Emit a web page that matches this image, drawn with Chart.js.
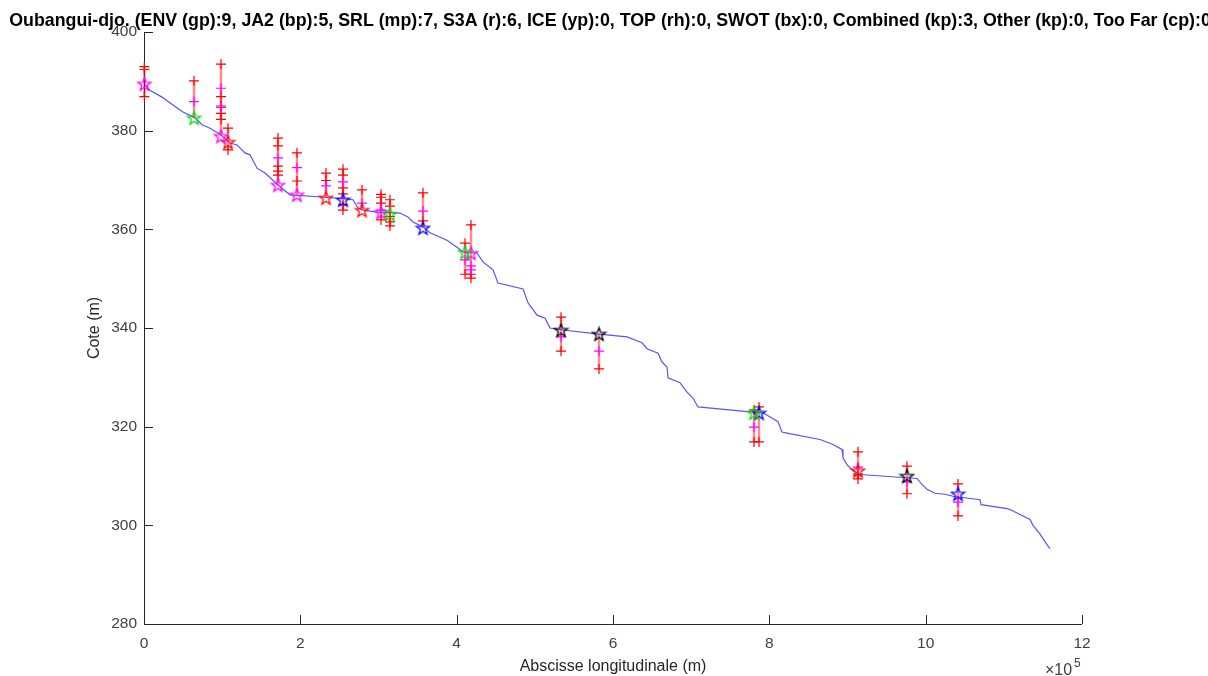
<!DOCTYPE html>
<html>
<head>
<meta charset="utf-8">
<script src="https://cdn.jsdelivr.net/npm/chart.js@4.4.1/dist/chart.umd.min.js"></script>
<style>
    html, body { margin: 0; padding: 0; background: #fff; }
</style>
</head>
<body>
<canvas id="profileChart" width="1208" height="676"></canvas>
<script>
// PROFILE CHART - water levels along the river

// River profile (blue line): abscissa in m, elevation in m
const profileX = [1300, 7700, 23000, 37100, 49900, 65200, 74200, 84400, 97200, 110000,
    119000, 129200, 135600, 144600, 154800, 171400, 186800, 222600, 254600, 267400,
    273800, 280200, 298100, 327500, 337700, 344100, 356900, 365900, 387600, 401700,
    408100, 426000, 433700, 446500, 452900, 484900, 491300, 502800, 513000, 519400,
    536000, 579500, 617900, 637100, 643500, 657600, 662700, 669100, 670400, 685700,
    694700, 702300, 708700, 775300, 791900, 811100, 816200, 822600, 864800, 881400,
    893000, 894200, 899300, 907000, 916000, 971000, 988900, 995300, 1001700, 1011900,
    1024700, 1035000, 1069500, 1070800, 1104000, 1107900, 1133500, 1137300, 1146300, 1155200,
    1159000];
const profileY = [389.3, 388.2, 386.8, 385.2, 383.8, 382.6, 381.2, 380.5, 379.3, 377.5,
    377.1, 375.5, 375.1, 372.4, 371.4, 369.0, 367.0, 366.6, 366.2, 366.0,
    364.3, 363.9, 363.5, 363.3, 362.5, 361.5, 360.5, 359.3, 357.8, 356.2,
    355.4, 355.2, 353.4, 351.8, 349.1, 347.9, 345.1, 342.6, 342.0, 340.0,
    339.6, 338.8, 338.2, 337.0, 335.8, 334.9, 333.1, 332.1, 329.9, 328.9,
    327.0, 325.8, 324.0, 323.0, 322.8, 321.0, 318.9, 318.7, 317.4, 316.4,
    315.4, 313.7, 312.3, 311.1, 310.3, 309.7, 309.5, 308.3, 307.3, 306.5,
    306.3, 305.9, 305.2, 304.2, 303.4, 303.2, 301.2, 300.0, 298.2, 296.1,
    295.3];

// Virtual stations: abscissa, retained level (star) and mission of the star
const stationX = [500, 64000, 98500, 107500, 171400, 195700, 232800, 254600, 278900, 303200,
    314700, 356900, 410700, 418300, 533500, 582100, 780400, 786800, 913400, 976100, 1041400];
const stationStar = [389.5, 382.6, 378.9, 377.7, 369.0, 367.0, 366.4, 366.0, 363.9, 363.5,
    363.1, 360.3, 355.4, 355.2, 339.6, 338.8, 322.8, 322.8, 311.1, 310.0, 306.4];
const stationMission = ["SRL", "ENV", "SRL", "S3A", "SRL", "SRL", "S3A", "JA2", "S3A", "SRL",
    "ENV", "JA2", "ENV", "SRL", "Combined", "Combined", "ENV", "JA2", "S3A", "Combined", "JA2"];

// Individual measurements per station (red +) and medians (magenta +)
const redPlus = [
    [393.0, 392.4, 386.9],
    [390.1],
    [393.5, 386.9, 385.0, 383.5, 382.3],
    [380.5, 376.1],
    [378.5, 376.9, 372.8, 371.8, 371.0],
    [375.5, 369.8],
    [371.4, 369.9],
    [372.2, 371.0, 368.4, 367.2, 364.9, 363.9],
    [368.0],
    [367.1, 366.5, 365.3, 361.9],
    [366.0, 364.7, 362.6, 361.5, 360.7],
    [367.4, 361.7],
    [357.2, 350.9],
    [360.9, 350.9, 350.1],
    [342.2, 335.3],
    [331.7],
    [323.4, 316.9],
    [324.0, 316.9],
    [314.9, 310.4, 309.4],
    [312.0, 306.4],
    [308.4, 301.9]
];
const magentaPlus = [
    [], [385.9], [388.6, 384.7], [], [374.5], [372.5], [368.8], [369.6], [365.3], [363.9],
    [], [363.7], [353.8], [352.6, 351.8], [338.2], [335.3], [319.9], [], [311.8], [308.8], [304.7]
];

const yTicks = [280, 300, 320, 340, 360, 380, 400];
const xTicks = [0, 200000, 400000, 600000, 800000, 1000000, 1200000];

const titleText = "Oubangui-djo. (ENV (gp):9, JA2 (bp):5, SRL (mp):7, S3A (r):6, ICE (yp):0, TOP (rh):0, SWOT (bx):0, Combined (kp):3, Other (kp):0, Too Far (cp):0)";

const missionColor = {
    ENV: "#00dd00",
    JA2: "#0000ff",
    SRL: "#ff00ff",
    S3A: "#ff0000",
    Combined: "#000000"
};

const FONT = "'Liberation Sans', Arial, sans-serif";

/* -------- marker helpers -------- */

function pentagram(color) {
    const c = document.createElement("canvas");
    c.width = 17; c.height = 17;
    const g = c.getContext("2d");
    g.strokeStyle = color;
    g.lineWidth = 1.3;
    g.beginPath();
    for (let i = 0; i < 10; i++) {
        const r = i % 2 ? 2.8 : 7;
        const a = -Math.PI / 2 + i * Math.PI / 5;
        const px = 8.5 + r * Math.cos(a), py = 9.2 + r * Math.sin(a);
        if (i) g.lineTo(px, py); else g.moveTo(px, py);
    }
    g.closePath();
    g.stroke();
    return c;
}

function pointsFor(lists) {
    const pts = [];
    lists.forEach((ys, i) => ys.forEach(y => pts.push({ x: stationX[i], y })));
    return pts;
}

function rangeSegments() {
    const pts = [];
    stationX.forEach((x, i) => {
        const all = [stationStar[i], ...redPlus[i], ...magentaPlus[i]];
        pts.push({ x, y: Math.max(...all) }, { x, y: Math.min(...all) }, { x, y: null });
    });
    return pts;
}

/* -------- decorations (MATLAB look) -------- */

const matlabDecor = {
    id: "matlabDecor",
    beforeDatasetsDraw(chart) {
        const { ctx, chartArea: a, scales: { x, y } } = chart;
        ctx.save();

        // axes + inward ticks
        ctx.strokeStyle = "#262626";
        ctx.lineWidth = 1;
        ctx.beginPath();
        ctx.moveTo(a.left + 0.5, a.top);
        ctx.lineTo(a.left + 0.5, a.bottom + 0.5);
        ctx.lineTo(a.right, a.bottom + 0.5);
        x.ticks.forEach(t => {
            const px = Math.round(x.getPixelForValue(t.value)) + 0.5;
            ctx.moveTo(px, a.bottom);
            ctx.lineTo(px, a.bottom - 9);
        });
        y.ticks.forEach(t => {
            const py = Math.round(y.getPixelForValue(t.value)) + 0.5;
            ctx.moveTo(a.left, py);
            ctx.lineTo(a.left + 9, py);
        });
        ctx.stroke();
        ctx.restore();
    },
    afterDraw(chart) {
        const { ctx, chartArea: a } = chart;
        ctx.save();

        // title
        ctx.fillStyle = "#000";
        ctx.font = "bold 17.8px " + FONT;
        ctx.textAlign = "center";
        ctx.textBaseline = "alphabetic";
        ctx.fillText(titleText, (a.left + a.right) / 2, 26);

        // axis labels
        ctx.fillStyle = "#262626";
        ctx.font = "16px " + FONT;
        ctx.fillText("Abscisse longitudinale (m)", (a.left + a.right) / 2, 671);
        ctx.save();
        ctx.translate(99, (a.top + a.bottom) / 2);
        ctx.rotate(-Math.PI / 2);
        ctx.fillText("Cote (m)", 0, 0);
        ctx.restore();

        // x10^5 exponent
        ctx.textAlign = "left";
        ctx.fillStyle = "#404040";
        ctx.font = "16px " + FONT;
        ctx.fillText("\u00d710", 1045, 675);
        ctx.font = "12px " + FONT;
        ctx.fillText("5", 1074, 667);

        ctx.restore();
    }
};

/* -------- chart -------- */

const starSets = Object.keys(missionColor).map(m => ({
    label: m,
    data: stationX.map((x, i) => ({ x, y: stationStar[i], m: stationMission[i] })).filter(p => p.m === m),
    pointStyle: pentagram(missionColor[m]),
    pointRadius: 7,
    showLine: false,
    clip: false
}));

new Chart(document.getElementById("profileChart"), {
    type: "scatter",
    data: {
        datasets: [
            ...starSets,
            {
                label: "Median",
                data: pointsFor(magentaPlus),
                pointStyle: "cross",
                pointRadius: 5,
                borderColor: "#ff00ff",
                borderWidth: 1.2,
                clip: false
            },
            {
                label: "Measures",
                data: pointsFor(redPlus),
                pointStyle: "cross",
                pointRadius: 5,
                borderColor: "#ff0000",
                borderWidth: 1.2,
                clip: false
            },
            {
                type: "line",
                label: "Range",
                data: rangeSegments(),
                borderColor: "rgba(255, 0, 0, 0.45)",
                borderWidth: 2.5,
                pointRadius: 0,
                spanGaps: false,
                clip: false
            },
            {
                type: "line",
                label: "Profile",
                data: profileX.map((x, i) => ({ x, y: profileY[i] })),
                borderColor: "rgba(40, 40, 255, 0.8)",
                borderWidth: 1.2,
                pointRadius: 0,
                tension: 0
            }
        ]
    },
    options: {
        responsive: false,
        animation: false,
        layout: { padding: { top: 32, right: 126, left: 0, bottom: 0 } },
        plugins: {
            legend: { display: false },
            tooltip: { enabled: false }
        },
        scales: {
            x: {
                type: "linear",
                min: 0,
                max: 1200000,
                afterFit: s => { s.height = 52; },
                afterBuildTicks: s => { s.ticks = xTicks.map(v => ({ value: v })); },
                grid: { display: false, drawTicks: false },
                border: { display: false },
                ticks: {
                    padding: 10,
                    color: "#404040",
                    font: { family: FONT, size: 15.5 },
                    callback: v => v / 100000
                }
            },
            y: {
                type: "linear",
                min: 280,
                max: 400,
                afterFit: s => { s.width = 144; },
                afterBuildTicks: s => { s.ticks = yTicks.map(v => ({ value: v })); },
                grid: { display: false, drawTicks: false },
                border: { display: false },
                ticks: {
                    padding: 7,
                    color: "#404040",
                    font: { family: FONT, size: 15.5 }
                }
            }
        }
    },
    plugins: [matlabDecor]
});
</script>
</body>
</html>
